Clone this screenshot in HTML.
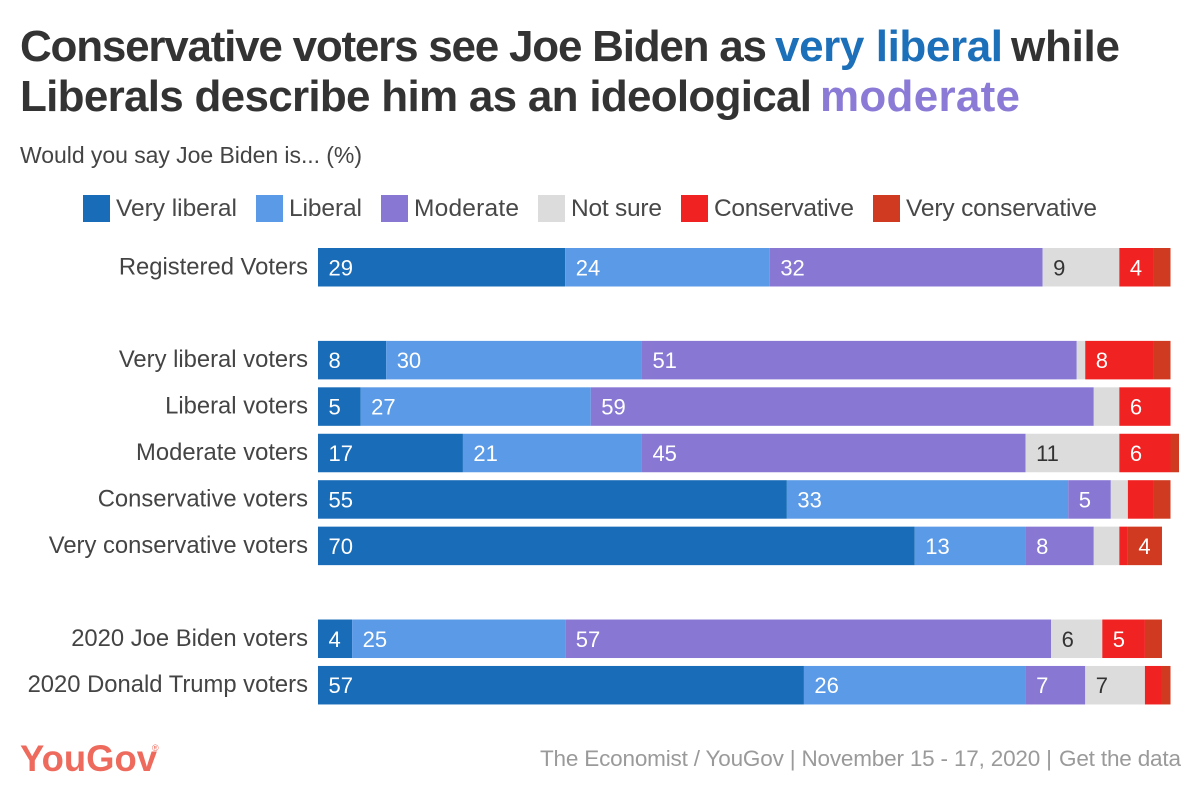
<!DOCTYPE html>
<html lang="en">
<head>
<meta charset="utf-8">
<title>Conservative voters see Joe Biden as very liberal</title>
<style>
html,body{margin:0;padding:0;background:#fff;}
svg{display:block;font-family:"Liberation Sans",sans-serif;}
.title{font-size:44px;font-weight:700;fill:#333333;}
.sub{font-size:23px;fill:#444444;}
.leg{font-size:24.5px;fill:#484848;}
.cat{font-size:23.8px;fill:#444444;text-anchor:end;}
.val{font-size:22px;}
.foot{font-size:22.5px;fill:#9a9a9a;}
.logo{font-size:37px;font-weight:700;fill:#ee6a5c;}
</style>
</head>
<body>
<svg id="chart" width="1200" height="797" viewBox="0 0 1200 797" xmlns="http://www.w3.org/2000/svg">
  <rect width="1200" height="797" fill="#ffffff"/>
  <g>
    <text class="title" x="20" y="61" textLength="747" lengthAdjust="spacing">Conservative voters see Joe Biden as</text>
    <text class="title" x="775" y="61" textLength="228" lengthAdjust="spacing" style="fill:#1c6fb9">very liberal</text>
    <text class="title" x="1011" y="61" textLength="109" lengthAdjust="spacing">while</text>
    <text class="title" x="20" y="111" textLength="792" lengthAdjust="spacing">Liberals describe him as an ideological</text>
    <text class="title" x="820" y="111" textLength="200" lengthAdjust="spacing" style="fill:#8b7bd6">moderate</text>
  </g>
  <text class="sub" x="20" y="163" textLength="342" lengthAdjust="spacing">Would you say Joe Biden is... (%)</text>
  <g>
    <g><rect x="83" y="195" width="27" height="27" fill="#196cb8"/><text class="leg" x="116" y="216" textLength="121">Very liberal</text></g>
    <g><rect x="256" y="195" width="27" height="27" fill="#5a9ae6"/><text class="leg" x="289" y="216" textLength="73">Liberal</text></g>
    <g><rect x="381" y="195" width="27" height="27" fill="#8878d4"/><text class="leg" x="414" y="216" textLength="105">Moderate</text></g>
    <g><rect x="538" y="195" width="27" height="27" fill="#dcdcdc"/><text class="leg" x="571" y="216" textLength="91">Not sure</text></g>
    <g><rect x="681" y="195" width="27" height="27" fill="#f02222"/><text class="leg" x="714" y="216" textLength="140">Conservative</text></g>
    <g><rect x="873" y="195" width="27" height="27" fill="#cf3a20"/><text class="leg" x="906" y="216" textLength="191">Very conservative</text></g>
  </g>
  <g id="plot"></g>
  <g>
    <text class="logo" x="20" y="771" textLength="137" lengthAdjust="spacingAndGlyphs">YouGov</text>
    <text x="152" y="751" font-size="9" fill="#ee6a5c">®</text>
  </g>
  <text class="foot" x="540" y="766" textLength="512" lengthAdjust="spacing">The Economist / YouGov | November 15 - 17, 2020 |</text>
  <text class="foot" x="1059" y="766" textLength="122" lengthAdjust="spacing">Get the data</text>
</svg>
<script>
const categories = ['Registered Voters', null, 'Very liberal voters', 'Liberal voters', 'Moderate voters', 'Conservative voters', 'Very conservative voters', null, '2020 Joe Biden voters', '2020 Donald Trump voters'];
const veryLiberal = [29, null, 8, 5, 17, 55, 70, null, 4, 57];
const liberal = [24, null, 30, 27, 21, 33, 13, null, 25, 26];
const moderate = [32, null, 51, 59, 45, 5, 8, null, 57, 7];
const notSure = [9, null, 1, 3, 11, 2, 3, null, 6, 7];
const conservative = [4, null, 8, 6, 6, 3, 1, null, 5, 2];
const veryConservative = [2, null, 2, 0, 1, 2, 4, null, 2, 1];

const stackSeries = [
  {key: 'very-liberal', values: veryLiberal, fill: '#196cb8', text: '#ffffff'},
  {key: 'liberal', values: liberal, fill: '#5a9ae6', text: '#ffffff'},
  {key: 'moderate', values: moderate, fill: '#8878d4', text: '#ffffff'},
  {key: 'not-sure', values: notSure, fill: '#dcdcdc', text: '#333333'},
  {key: 'conservative', values: conservative, fill: '#f02222', text: '#ffffff'},
  {key: 'very-conservative', values: veryConservative, fill: '#cf3a20', text: '#ffffff'}
];

const NS = 'http://www.w3.org/2000/svg';
const plot = document.getElementById('plot');
const xAxis = function (v) { return 318 + v * 8.525; };
const yAxis = function (i) { return 248 + i * 46.44; };
const bandHeight = 38.5;
const minLabelled = 4;

categories.forEach(function (cat, i) {
  if (cat === null) return;
  const slug = cat.toLowerCase().replace(/[^a-z0-9]+/g, '-');
  const label = document.createElementNS(NS, 'text');
  label.setAttribute('class', 'cat');
  label.setAttribute('x', 308);
  label.setAttribute('y', yAxis(i) + bandHeight / 2 + 7);
  
  
  label.textContent = cat;
  plot.appendChild(label);

  let running = 0;
  stackSeries.forEach(function (s) {
    const v = s.values[i];
    if (!v) return;
    const rect = document.createElementNS(NS, 'rect');
    rect.setAttribute('x', xAxis(running));
    rect.setAttribute('y', yAxis(i));
    rect.setAttribute('width', xAxis(running + v) - xAxis(running));
    rect.setAttribute('height', bandHeight);
    rect.setAttribute('fill', s.fill);
    
    
    plot.appendChild(rect);
    if (v >= minLabelled) {
      const t = document.createElementNS(NS, 'text');
      t.setAttribute('class', 'val');
      t.setAttribute('x', xAxis(running) + 10.5);
      t.setAttribute('y', yAxis(i) + bandHeight / 2 + 8);
      t.setAttribute('fill', s.text);
      
      
      t.textContent = v;
      plot.appendChild(t);
    }
    running += v;
  });
});
</script>
</body>
</html>
